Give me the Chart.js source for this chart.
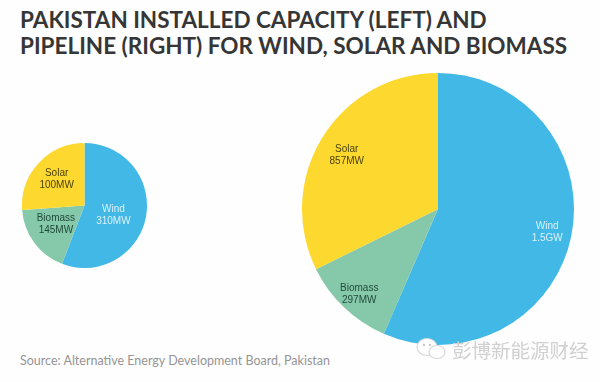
<!DOCTYPE html>
<html>
<head>
<meta charset="utf-8">
<script src="https://cdn.jsdelivr.net/npm/chart.js@4"></script>
<style>
html, body { margin: 0; padding: 0; background: #fefefe; }
body { position: relative; width: 600px; height: 382px; overflow: hidden; }
canvas { position: absolute; }
#left { left: 22px; top: 143px; }
#right { left: 302px; top: 73px; }
.title { position: absolute; left: 20px; top: 7px; font: 700 22.5px/25.5px Lato, sans-serif; color: #363636; white-space: nowrap; }
.source { position: absolute; left: 20px; top: 354px; font: 400 12.5px/14px Lato, sans-serif; color: #959595; white-space: nowrap; }
.mark { position: absolute; left: 452px; top: 338px; font: 400 19.5px/24px "Noto Sans CJK SC", sans-serif; color: #d0d0d0; white-space: nowrap; }
.icon { position: absolute; left: 414px; top: 337px; }
</style>
</head>
<body>
<div class="title">PAKISTAN INSTALLED CAPACITY (LEFT) AND<br>PIPELINE (RIGHT) FOR WIND, SOLAR AND BIOMASS</div>
<canvas id="left" width="125" height="125"></canvas>
<canvas id="right" width="272" height="272"></canvas>
<div class="source">Source:  Alternative Energy Development Board, Pakistan</div>
<svg class="icon" width="36" height="24" viewBox="0 0 36 24">
  <ellipse cx="13" cy="10" rx="10" ry="8.5" fill="#fff" stroke="#d8d8d8" stroke-width="1.2"/>
  <ellipse cx="23" cy="15" rx="8" ry="6.5" fill="#fff" stroke="#d8d8d8" stroke-width="1.2"/>
  <circle cx="10" cy="8" r="1.2" fill="#c8c8c8"/>
  <circle cx="16" cy="8" r="1.2" fill="#c8c8c8"/>
</svg>
<div class="mark">彭博新能源财经</div>
<script>
const categories = ['Wind', 'Biomass', 'Solar'];
const colors = ['#41b8e6', '#86c9aa', '#fdd92f'];
const textColors = ['#d9f1fb', '#1f4a3c', '#4a4310'];

// left pie: slices as drawn, the printed biomass/solar labels do not follow the slice sizes
const leftValues = [310, 100, 145];
const leftLabels = ['310MW', '145MW', '100MW'];
const rightValues = [1500, 297, 857];
const rightLabels = ['1.5GW', '297MW', '857MW'];

// how far out along each slice the label sits (share of radius), plus a small nudge down
const leftLabelPos = [0.47, 0.57, 0.61];
const leftLabelNudge = [4, -2, 0];
const rightLabelPos = [0.82, 0.84, 0.79];
const rightLabelNudge = [1, 3, 3];

const sliceLabels = {
    id: 'sliceLabels',
    afterDatasetsDraw(chart, args, opts) {
        const c = chart.ctx;
        c.save();
        c.textAlign = 'center';
        c.textBaseline = 'middle';
        c.font = '10px "Liberation Sans", sans-serif';
        chart.getDatasetMeta(0).data.forEach((arc, i) => {
            const mid = (arc.startAngle + arc.endAngle) / 2;
            const r = arc.outerRadius * opts.pos[i];
            const x = arc.x + Math.cos(mid) * r;
            const y = arc.y + Math.sin(mid) * r + opts.nudge[i];
            c.fillStyle = textColors[i];
            c.fillText(categories[i], x, y - 6);
            c.fillText(opts.values[i], x, y + 6);
        });
        c.restore();
    }
};

function makePie(id, values, labels, pos, nudge) {
    return new Chart(document.getElementById(id).getContext('2d'), {
        type: 'pie',
        data: {
            labels: categories,
            datasets: [{ data: values, backgroundColor: colors, borderWidth: 0 }]
        },
        options: {
            responsive: false,
            animation: false,
            plugins: {
                legend: false,
                tooltip: { enabled: false },
                sliceLabels: { values: labels, pos: pos, nudge: nudge }
            }
        },
        plugins: [sliceLabels]
    });
}

makePie('left', leftValues, leftLabels, leftLabelPos, leftLabelNudge);
makePie('right', rightValues, rightLabels, rightLabelPos, rightLabelNudge);
</script>
</body>
</html>
